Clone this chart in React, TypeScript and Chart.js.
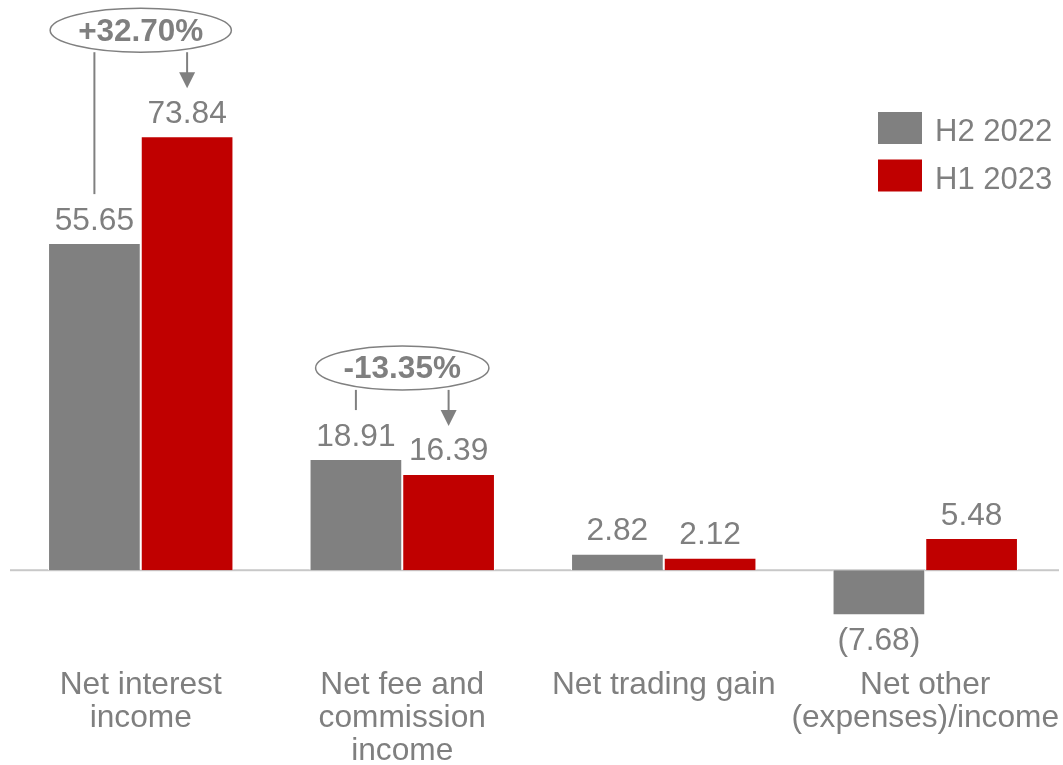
import React, { useEffect, useRef } from "react";
import { Chart, registerables } from "chart.js";

Chart.register(...registerables);

const categories: string[][] = [
  ["Net interest", "income"],
  ["Net fee and", "commission", "income"],
  ["Net trading gain"],
  ["Net other", "(expenses)/income"],
];
const seriesNames = ["H2 2022", "H1 2023"];
const h2_2022 = [55.65, 18.91, 2.82, -7.68];
const h1_2023 = [73.84, 16.39, 2.12, 5.48];
const changeCategories = [0, 1];
const changeTexts = ["+32.70%", "-13.35%"];

const GREY = "#808080";
const RED = "#c00000";
const TEXT = "#7f7f7f";
const FONT = "'Liberation Sans', Arial, sans-serif";

const fmt = (v: number) => (v < 0 ? `(${Math.abs(v).toFixed(2)})` : v.toFixed(2));

const overlayPlugin = {
  id: "overlay",
  beforeDatasetsDraw(chart: any) {
    const { ctx, chartArea } = chart;
    const y0 = chart.scales.y.getPixelForValue(0);
    ctx.save();
    ctx.fillStyle = "#c8c8c8";
    ctx.fillRect(chartArea.left, y0 - 1, chart.width - 4 - chartArea.left, 2);
    ctx.restore();
  },
  afterDatasetsDraw(chart: any) {
    const { ctx } = chart;
    const xs = chart.scales.x;
    const y0 = chart.scales.y.getPixelForValue(0);
    ctx.save();
    // value labels
    ctx.fillStyle = TEXT;
    ctx.font = `31.7px ${FONT}`;
    ctx.textAlign = "center";
    ctx.textBaseline = "alphabetic";
    chart.data.datasets.forEach((ds: any, i: number) => {
      const meta = chart.getDatasetMeta(i);
      meta.data.forEach((el: any, j: number) => {
        const v = ds.data[j];
        if (v >= 0) ctx.fillText(fmt(v), el.x, el.y - 13.5);
        else ctx.fillText(fmt(v), el.x, el.y + 35);
      });
    });
    // category labels
    categories.forEach((lines, i) => {
      const x = xs.getPixelForValue(i);
      lines.forEach((ln, k) => ctx.fillText(ln, x, y0 + 124 + k * 33));
    });
    // legend
    ctx.font = `31px ${FONT}`;
    const lx = chart.width - 185;
    chart.data.datasets.forEach((ds: any, i: number) => {
      const top = 112 + i * 47.5;
      ctx.fillStyle = ds.backgroundColor;
      ctx.fillRect(lx, top, 44, 32);
      ctx.fillStyle = TEXT;
      ctx.textAlign = "left";
      ctx.fillText(ds.label, lx + 57, top + 29);
    });
    // change annotations
    const m0 = chart.getDatasetMeta(0);
    const m1 = chart.getDatasetMeta(1);
    changeCategories.forEach((c, k) => {
      const g = m0.data[c];
      const r = m1.data[c];
      const cx = (g.x + r.x) / 2;
      const cy = r.y - 106;
      ctx.font = `bold 31.5px ${FONT}`;
      const tw = ctx.measureText(changeTexts[k]).width;
      const rx = tw / 2 + 28;
      const ry = 22;
      ctx.strokeStyle = GREY;
      ctx.lineWidth = 2;
      // connector lines
      ctx.beginPath();
      ctx.moveTo(g.x, cy + ry);
      ctx.lineTo(g.x, g.y - 49);
      ctx.stroke();
      const tip = r.y - 48;
      ctx.beginPath();
      ctx.moveTo(r.x, cy + ry);
      ctx.lineTo(r.x, tip - 14);
      ctx.stroke();
      ctx.fillStyle = GREY;
      ctx.beginPath();
      ctx.moveTo(r.x - 8, tip - 16);
      ctx.lineTo(r.x + 8, tip - 16);
      ctx.lineTo(r.x, tip);
      ctx.closePath();
      ctx.fill();
      // ellipse
      ctx.beginPath();
      ctx.ellipse(cx, cy, rx, ry, 0, 0, Math.PI * 2);
      ctx.fillStyle = "#ffffff";
      ctx.fill();
      ctx.lineWidth = 1.5;
      ctx.stroke();
      ctx.fillStyle = TEXT;
      ctx.textAlign = "center";
      ctx.fillText(changeTexts[k], cx, cy + 10.5);
    });
    ctx.restore();
  },
};

export default function App() {
  const ref = useRef<HTMLCanvasElement>(null);
  useEffect(() => {
    if (!ref.current) return;
    const chart = new Chart(ref.current, {
      type: "bar",
      data: {
        labels: categories.map((c) => c.join(" ")),
        datasets: [
          {
            label: seriesNames[0],
            data: h2_2022,
            backgroundColor: GREY,
            borderColor: "#ffffff",
            borderWidth: 1,
            borderSkipped: "start",
          },
          {
            label: seriesNames[1],
            data: h1_2023,
            backgroundColor: RED,
            borderColor: "#ffffff",
            borderWidth: 1,
            borderSkipped: "start",
          },
        ],
      },
      options: {
        responsive: false,
        animation: false,
        layout: { padding: { top: 100, bottom: 136, left: 10, right: 7 } },
        datasets: { bar: { categoryPercentage: 0.709, barPercentage: 1 } },
        scales: {
          x: { display: false },
          y: { display: false, min: -10, max: 80 },
        },
        plugins: { legend: { display: false }, tooltip: { enabled: false } },
      },
      plugins: [overlayPlugin],
    });
    return () => chart.destroy();
  }, []);
  return (
    <div style={{ position: "fixed", left: 0, top: 0, width: 1063, height: 765, background: "#fff" }}>
      <canvas ref={ref} width={1063} height={765} />
    </div>
  );
}
